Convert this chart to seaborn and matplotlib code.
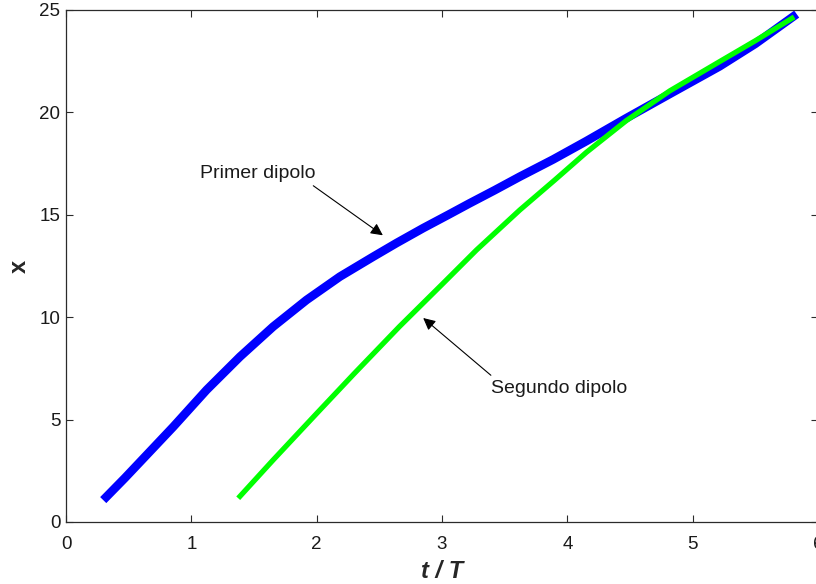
import matplotlib
matplotlib.use("Agg")
import matplotlib.pyplot as plt
import seaborn as sns
import pandas as pd

# Trajectory of the first dipole (position x vs. normalised time t/T)
primer_t = [0.297, 0.47, 0.643, 0.856, 1.122, 1.388, 1.653, 1.919, 2.185,
            2.45, 2.637, 2.85, 3.05, 3.22, 3.42, 3.62, 3.886, 4.152, 4.471,
            4.817, 5.215, 5.5, 5.83]
primer_x = [1.07, 2.15, 3.27, 4.65, 6.45, 8.07, 9.54, 10.84, 11.98,
            12.95, 13.62, 14.35, 15.0, 15.56, 16.2, 16.86, 17.7, 18.6, 19.72,
            20.9, 22.25, 23.35, 24.8]

# Trajectory of the second dipole
segundo_t = [1.374, 1.653, 2.0, 2.3, 2.66, 3.0, 3.275, 3.62, 3.9, 4.152,
             4.471, 4.817, 5.215, 5.5, 5.81]
segundo_x = [1.16, 3.03, 5.3, 7.25, 9.54, 11.6, 13.28, 15.23, 16.7, 18.05,
             19.6, 21.05, 22.48, 23.5, 24.66]

x_ticks = [0, 1, 2, 3, 4, 5, 6]
y_ticks = [0, 5, 10, 15, 20, 25]

sns.set_style("ticks", {
    "xtick.direction": "in",
    "ytick.direction": "in",
    "axes.edgecolor": "#2b2b2b",
})
plt.rcParams["font.family"] = ["Liberation Sans", "DejaVu Sans"]

df1 = pd.DataFrame({"t": primer_t, "x": primer_x})
df2 = pd.DataFrame({"t": segundo_t, "x": segundo_x})

fig = plt.figure(figsize=(8.16, 5.84), dpi=100)
ax = fig.add_axes([66 / 816, 1 - 522 / 584, (818 - 66) / 816, (522 - 10) / 584])

sns.lineplot(data=df1, x="t", y="x", ax=ax, color="#0000ff", linewidth=6.2,
             sort=False, estimator=None, solid_capstyle="butt",
             solid_joinstyle="round")
sns.lineplot(data=df2, x="t", y="x", ax=ax, color="#00ff00", linewidth=3.8,
             sort=False, estimator=None, solid_capstyle="butt",
             solid_joinstyle="round")

ax.set_xlim(0, 6)
ax.set_ylim(0, 25)
ax.set_xticks(x_ticks)
ax.set_yticks(y_ticks)
ax.tick_params(axis="both", which="major", direction="in", length=5.2,
               width=0.8, colors="#2b2b2b", labelsize=13.5, labelcolor="#1a1a1a",
               top=True, right=True)
ax.tick_params(axis="x", pad=10)
ax.tick_params(axis="y", pad=4)
for s in ax.spines.values():
    s.set_visible(True)
    s.set_linewidth(0.9)

ax.set_xlabel("t / T", fontsize=17, fontweight="bold", fontstyle="italic")
ax.set_ylabel("x", fontsize=17, fontweight="bold")
ax.xaxis.set_label_coords((442 - 66) / 752, (522 - 571) / 512)
ax.yaxis.set_label_coords((19 - 66) / 752, (522 - 266) / 512)
ax.xaxis.label.set_va("center")
ax.yaxis.label.set_va("center")

ax.annotate("Primer dipolo", xy=(2.528, 14.0), xytext=(1.07, 17.0),
            fontsize=14, color="#1a1a1a", va="center", ha="left",
            arrowprops=dict(arrowstyle="-|>", color="black", lw=0.8,
                            mutation_scale=18, shrinkA=0, shrinkB=0,
                            relpos=(0.98, -0.2)))
ax.annotate("Segundo dipolo", xy=(2.85, 9.96), xytext=(3.39, 6.5),
            fontsize=14, color="#1a1a1a", va="center", ha="left",
            arrowprops=dict(arrowstyle="-|>", color="black", lw=0.8,
                            mutation_scale=18, shrinkA=0, shrinkB=0,
                            relpos=(0.0, 1.3)))

fig.savefig("out.png", dpi=100)
